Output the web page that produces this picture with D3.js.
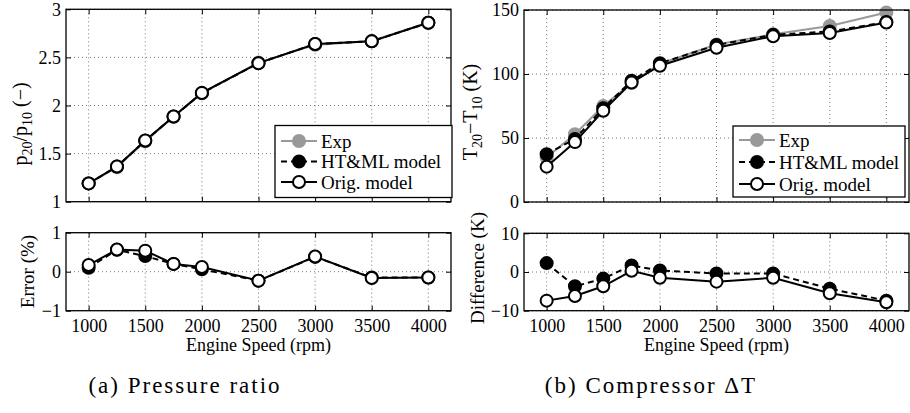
<!DOCTYPE html>
<html><head><meta charset="utf-8">
<script src="https://cdn.jsdelivr.net/npm/d3@7"></script>
<style>
body{margin:0;background:#fff}
svg{display:block}
svg text{font-family:"Liberation Serif","Times New Roman",Times,serif !important;fill:#000}
</style>
</head><body>
<svg id="c" width="910" height="413"></svg>
<script>
// ---------- data ----------
const speeds = [1000, 1250, 1500, 1750, 2000, 2500, 3000, 3500, 4000];
const xTicks = [1000, 1500, 2000, 2500, 3000, 3500, 4000];

const prExp  = [1.188, 1.358, 1.627, 1.882, 2.128, 2.446, 2.630, 2.671, 2.864];
const prHT   = [1.190, 1.365, 1.634, 1.886, 2.129, 2.440, 2.640, 2.667, 2.860];
const prOrig = [1.190, 1.366, 1.636, 1.886, 2.131, 2.440, 2.640, 2.667, 2.860];

const errHT   = [0.10, 0.56, 0.40, 0.20, 0.06, -0.23, 0.38, -0.15, -0.15];
const errOrig = [0.17, 0.57, 0.54, 0.20, 0.12, -0.23, 0.39, -0.16, -0.15];

const dtExp  = [35.0, 53.0, 75.0, 93.0, 108.0, 123.0, 131.0, 137.5, 148.0];
const dtHT   = [37.3, 49.3, 73.3, 94.7, 108.4, 122.6, 130.6, 133.2, 140.6];
const dtOrig = [27.6, 46.8, 71.3, 93.3, 106.5, 120.5, 129.5, 132.0, 140.2];

const diffHT   = [2.3, -3.7, -1.7, 1.7, 0.4, -0.4, -0.4, -4.3, -7.4];
const diffOrig = [-7.4, -6.2, -3.7, 0.3, -1.5, -2.5, -1.5, -5.5, -7.8];

const prTicks   = [1, 1.5, 2, 2.5, 3];
const errTicks  = [-1, 0, 1];
const dtTicks   = [0, 50, 100, 150];
const diffTicks = [-10, 0, 10];

const legendLabels = ["Exp", "HT&ML model", "Orig. model"];
const xLabel = "Engine Speed (rpm)";
const captions = ["(a) Pressure ratio", "(b) Compressor \u0394T"];

// ---------- helpers ----------
const FONT = '"Liberation Serif", "Times New Roman", Times, serif';
const svg = d3.select("#c");
const GRAY = "#999999";
const fmt = d => d < 0 ? "\u2212" + (-d) : String(d);
const TICKFONT = 18;

function panel(opt) {
  const x = d3.scaleLinear().domain([800, 4200]).range([opt.x0, opt.x1]);
  const y = d3.scaleLinear().domain(opt.yDomain).range([opt.y1, opt.y0]);
  const g = svg.append("g");

  // grid
  const grid = g.append("g").attr("stroke", "#555").attr("stroke-width", 0.8)
    .attr("stroke-dasharray", "1,3");
  grid.selectAll(".vx").data(xTicks).join("line")
    .attr("x1", d => x(d)).attr("x2", d => x(d)).attr("y1", opt.y0).attr("y2", opt.y1);
  grid.selectAll(".hy").data(opt.yTicks).join("line")
    .attr("x1", opt.x0).attr("x2", opt.x1).attr("y1", d => y(d)).attr("y2", d => y(d));

  // axes (inward ticks on all sides)
  const tk = 5;
  const ab = g.append("g").attr("transform", `translate(0,${opt.y1})`)
    .call(d3.axisBottom(x).tickValues(xTicks).tickSize(-tk).tickPadding(9)
      .tickFormat(opt.xLabels ? d => String(d) : ""));
  const at = g.append("g").attr("transform", `translate(0,${opt.y0})`)
    .call(d3.axisTop(x).tickValues(xTicks).tickSize(-tk).tickFormat(""));
  const al = g.append("g").attr("transform", `translate(${opt.x0},0)`)
    .call(d3.axisLeft(y).tickValues(opt.yTicks).tickSize(-tk).tickPadding(5).tickFormat(fmt));
  const ar = g.append("g").attr("transform", `translate(${opt.x1},0)`)
    .call(d3.axisRight(y).tickValues(opt.yTicks).tickSize(-tk).tickFormat(""));
  [ab, at, al, ar].forEach(a => {
    a.attr("font-family", FONT);
    a.select(".domain").remove();
    a.selectAll(".tick line").attr("stroke", "#000").attr("stroke-width", 1);
    a.selectAll("text").attr("font-size", TICKFONT).style("font-family", FONT).attr("fill", "#000");
  });

  // series
  opt.series.forEach(s => {
    const line = d3.line().x((d, i) => x(speeds[i])).y(d => y(d));
    g.append("path").datum(s.values).attr("d", line).attr("fill", "none")
      .attr("stroke", s.stroke).attr("stroke-width", 2)
      .attr("stroke-dasharray", s.dash || null);
    g.selectAll(null).data(s.values).join("circle")
      .attr("cx", (d, i) => x(speeds[i])).attr("cy", d => y(d)).attr("r", 6)
      .attr("fill", s.fill).attr("stroke", s.stroke).attr("stroke-width", 2);
  });

  // frame
  g.append("rect").attr("x", opt.x0).attr("y", opt.y0)
    .attr("width", opt.x1 - opt.x0).attr("height", opt.y1 - opt.y0)
    .attr("fill", "none").attr("stroke", "#000").attr("stroke-width", 1.3);

  // y label
  const yl = g.append("text").attr("font-size", opt.ylSize || 19)
    .style("font-family", FONT)
    .attr("text-anchor", "middle")
    .attr("transform", `translate(${opt.ylX},${opt.ylY}) rotate(-90)`);
  opt.yLabel(yl);

  if (opt.xLabels) {
    g.append("text").attr("x", (opt.x0 + opt.x1) / 2).attr("y", 351)
      .style("font-family", FONT)
      .attr("text-anchor", "middle").attr("font-size", 18).text(xLabel);
  }

  if (opt.legend) {
    const L = opt.legend;
    const lg = g.append("g");
    lg.append("rect").attr("x", L.x).attr("y", L.y).attr("width", L.w).attr("height", L.h)
      .attr("fill", "#fff").attr("stroke", "#000").attr("stroke-width", 1.3);
    const styles = [
      {stroke: GRAY, fill: GRAY, dash: null},
      {stroke: "#000", fill: "#000", dash: "6,4"},
      {stroke: "#000", fill: "#fff", dash: null}
    ];
    legendLabels.forEach((lab, i) => {
      const cy = L.y + L.row0 + i * L.dy;
      const s = styles[i];
      lg.append("line").attr("x1", L.x + 6).attr("x2", L.x + 42).attr("y1", cy).attr("y2", cy)
        .attr("stroke", s.stroke).attr("stroke-width", 2).attr("stroke-dasharray", s.dash);
      lg.append("circle").attr("cx", L.x + 24).attr("cy", cy).attr("r", 6)
        .attr("fill", s.fill).attr("stroke", s.stroke).attr("stroke-width", 2);
      lg.append("text").attr("x", L.x + 46).attr("y", cy).attr("dy", "0.35em")
        .style("font-family", FONT)
        .attr("font-size", 19).text(lab);
    });
  }
}

const S = (vals, kind) => ({
  exp:  {values: vals, stroke: GRAY, fill: GRAY},
  ht:   {values: vals, stroke: "#000", fill: "#000", dash: "6,4"},
  orig: {values: vals, stroke: "#000", fill: "#fff"}
})[kind];

// (a) top
panel({
  x0: 66, x1: 451, y0: 9.3, y1: 201.7, yDomain: [1, 3], yTicks: prTicks, xLabels: false,
  series: [S(prExp, "exp"), S(prHT, "ht"), S(prOrig, "orig")],
  ylX: 27, ylY: 124, ylSize: 20,
  yLabel: t => {
    t.append("tspan").text("p");
    t.append("tspan").attr("font-size", 14).attr("dy", 5).text("20");
    t.append("tspan").attr("dy", -5).text("/p");
    t.append("tspan").attr("font-size", 14).attr("dy", 5).text("10");
    t.append("tspan").attr("dy", -5).text(" (\u2212)");
  },
  legend: {x: 275, y: 125.5, w: 177, h: 72, row0: 15.5, dy: 20.5}
});
// (a) bottom
panel({
  x0: 66, x1: 451, y0: 232.7, y1: 310.7, yDomain: [-1, 1], yTicks: errTicks, xLabels: true,
  series: [S(errHT, "ht"), S(errOrig, "orig")],
  ylX: 34, ylY: 271.5,
  yLabel: t => t.text("Error (%)")
});
// (b) top
panel({
  x0: 524, x1: 909, y0: 10, y1: 202, yDomain: [0, 150], yTicks: dtTicks, xLabels: false,
  series: [S(dtExp, "exp"), S(dtHT, "ht"), S(dtOrig, "orig")],
  ylX: 477, ylY: 112, ylSize: 20,
  yLabel: t => {
    t.append("tspan").text("T");
    t.append("tspan").attr("font-size", 14).attr("dy", 5).text("20");
    t.append("tspan").attr("dy", -5).text("\u2212T");
    t.append("tspan").attr("font-size", 14).attr("dy", 5).text("10");
    t.append("tspan").attr("dy", -5).text(" (K)");
  },
  legend: {x: 733, y: 126, w: 172, h: 71, row0: 14, dy: 22}
});
// (b) bottom
panel({
  x0: 524, x1: 909, y0: 233.3, y1: 310.7, yDomain: [-10, 10], yTicks: diffTicks, xLabels: true,
  series: [S(diffHT, "ht"), S(diffOrig, "orig")],
  ylX: 484, ylY: 268,
  yLabel: t => t.text("Difference (K)")
});

// captions
svg.selectAll(".cap").data(captions).join("text")
  .style("font-family", FONT)
  .attr("x", (d, i) => i === 0 ? 185 : 651).attr("y", 393)
  .attr("text-anchor", "middle").attr("font-size", 23)
  .attr("letter-spacing", 2).text(d => d);
</script>
</body></html>
